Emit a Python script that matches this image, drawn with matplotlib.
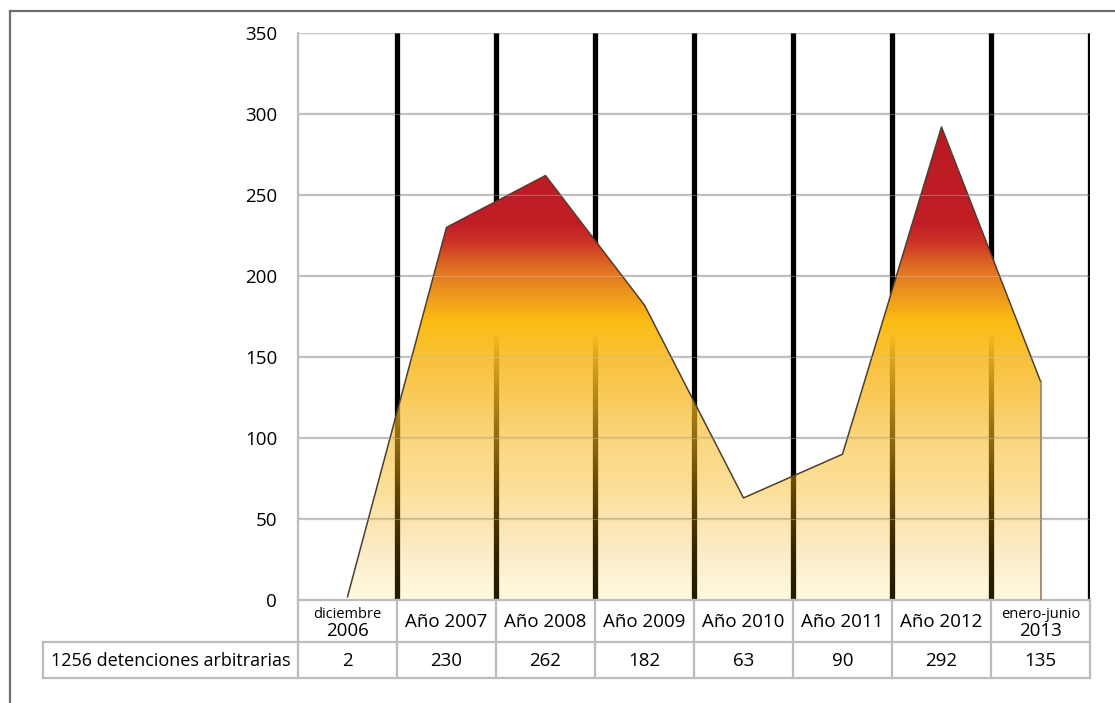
import numpy as np
import matplotlib
matplotlib.use('Agg')
from matplotlib import pyplot as plt
from matplotlib.lines import Line2D

# data
cats_top = ['diciembre', 'Año 2007', 'Año 2008', 'Año 2009', 'Año 2010',
            'Año 2011', 'Año 2012', 'enero-junio']
cats_bottom = ['2006', '', '', '', '', '', '', '2013']
values = [2, 230, 262, 182, 63, 90, 292, 135]
row_label = '1256 detenciones arbitrarias'
yticks = [0, 50, 100, 150, 200, 250, 300, 350]

# gradient stops: value -> displayed colour over white
stop_v = [0, 33, 94, 146, 172, 190, 205, 220, 232, 300, 350]
stop_c = [(255, 250, 228), (253, 234, 181), (251, 216, 131), (249, 194, 62),
          (251, 189, 19), (236, 148, 30), (225, 110, 35), (205, 55, 38),
          (194, 30, 38), (182, 26, 34), (182, 26, 34)]

plt.rcParams['font.family'] = ['Open Sans', 'DejaVu Sans']

W, H = 1115, 703
fig = plt.figure(figsize=(W / 100, H / 100), dpi=100)
L, R, T, B = 298, 1090, 33, 600
ax = fig.add_axes([L / W, (H - B) / H, (R - L) / W, (B - T) / H])

n = len(values)
x = np.arange(n)
ax.set_xlim(-0.5, n - 0.5)
ax.set_ylim(0, 350)

# grid lines
grid_c = '#bcbcc0'
for v in yticks[1:]:
    ax.axhline(v, color=grid_c, lw=1.6, zorder=1)
    ax.axhline(v, color='#d8d8dc', lw=0.8, alpha=0.35, zorder=6)

# black separators
for i in range(n):
    ax.axvline(i + 0.5, color='black', lw=3.8, zorder=2)

# gradient fill
vv = np.linspace(0, 350, 700)
rgb = np.array([np.interp(vv, stop_v, [c[k] for c in stop_c]) for k in range(3)]).T / 255
alpha = np.clip(0.13 + 0.87 * (vv / 165) ** 1.3, 0, 1)
base = np.clip((rgb - (1 - alpha[:, None])) / alpha[:, None], 0, 1)
img = np.hstack([base, alpha[:, None]]).reshape(len(vv), 1, 4)

xs = np.concatenate([x, [x[-1], x[0]]])
ys = np.concatenate([values, [0, 0]])
poly = ax.fill(xs, ys, facecolor='none', edgecolor='none')[0]
im = ax.imshow(img, extent=[-0.5, n - 0.5, 0, 350], origin='lower',
               aspect='auto', zorder=3, interpolation='bilinear')
im.set_clip_path(poly)
ax.plot(x, values, color='#4a3f35', lw=1.1, zorder=5)
ax.plot([x[-1], x[-1]], [values[-1], 0], color='#8a7650', lw=1.1, zorder=5)

# axes styling
for s in ['top', 'right', 'bottom']:
    ax.spines[s].set_visible(False)
ax.spines['left'].set_color(grid_c)
ax.spines['left'].set_linewidth(1.6)
ax.set_xticks([])
ax.set_yticks(yticks)
ax.tick_params(axis='y', length=0, pad=15, labelsize=13.5)

# table
tr = ax.get_xaxis_transform()
r1 = -42 / (B - T)
r2 = -78 / (B - T)
lab_left = -0.5 + (43 - L) / ((R - L) / n)
tc = '#bcbcc0'
def hl(x0, x1, y):
    ax.add_line(Line2D([x0, x1], [y, y], transform=tr, color=tc, lw=1.6, clip_on=False))
def vl(x0, y0, y1):
    ax.add_line(Line2D([x0, x0], [y0, y1], transform=tr, color=tc, lw=1.6, clip_on=False))

hl(-0.5, n - 0.5, 0)
hl(lab_left, n - 0.5, r1)
hl(lab_left, n - 0.5, r2)
vl(lab_left, r1, r2)
for i in range(n + 1):
    vl(i - 0.5, 0, r2)

fs = 13.5
for i in range(n):
    if cats_bottom[i]:
        ax.text(i, -14 / (B - T), cats_top[i], transform=tr, ha='center', va='center', fontsize=10.5)
        ax.text(i, -31 / (B - T), cats_bottom[i], transform=tr, ha='center', va='center', fontsize=fs)
    else:
        ax.text(i, -22 / (B - T), cats_top[i], transform=tr, ha='center', va='center', fontsize=fs)
    ax.text(i, -61 / (B - T), str(values[i]), transform=tr, ha='center', va='center', fontsize=fs)
ax.text((lab_left - 0.5) / 2, -61 / (B - T), row_label, transform=tr, ha='center', va='center', fontsize=13)

# outer frame
fig.add_artist(Line2D([10 / W, 1], [1 - 11 / H, 1 - 11 / H], color='#6d6d6d', lw=1.6))
fig.add_artist(Line2D([10 / W, 10 / W], [0, 1 - 11 / H], color='#6d6d6d', lw=1.6))

fig.savefig('out.png', dpi=100)
